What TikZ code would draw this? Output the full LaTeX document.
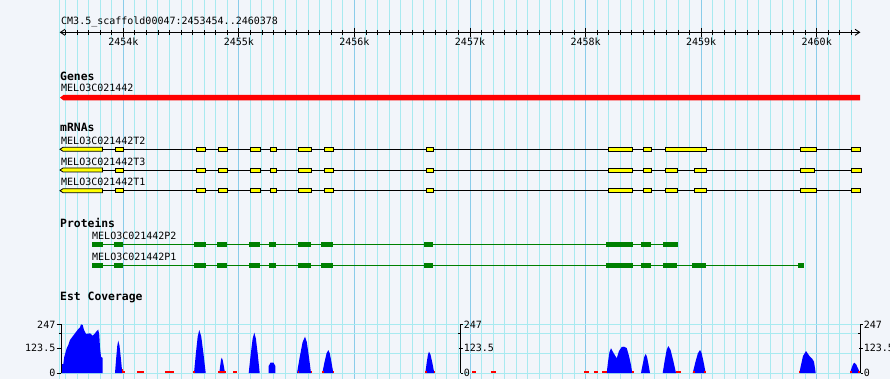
\documentclass[tikz,border=0pt]{standalone}
\usepackage{fontspec}
\newfontfamily\gd{DejaVu Sans Mono}
\definecolor{bg}{HTML}{F2F5FA}
\definecolor{gridlt}{HTML}{A8EAF0}
\definecolor{gridmj}{HTML}{8ACCEA}
\definecolor{genered}{HTML}{FF0000}
\definecolor{exyel}{HTML}{FFFF00}
\definecolor{protgr}{HTML}{008000}
\definecolor{covblue}{HTML}{0000FF}
\definecolor{covred}{HTML}{FF0000}
\tikzset{
  lbl/.style={font=\gd\fontsize{10}{10}\selectfont, inner sep=0pt, anchor=base west},
  hdr/.style={font=\gd\bfseries\fontsize{11.4}{11}\selectfont, inner sep=0pt, anchor=base west},
  ticklbl/.style={font=\gd\fontsize{10}{10}\selectfont, inner sep=0pt, anchor=base},
  axlbl/.style={font=\gd\fontsize{10}{10}\selectfont, inner sep=0pt},
  exon/.style={fill=exyel, draw=black, line width=0.8pt},
  prot/.style={fill=protgr},
  intron/.style={draw=black, line width=0.9pt},
  protline/.style={draw=protgr, line width=0.9pt},
  grl/.style={draw=gridlt, line width=1pt},
  grm/.style={draw=gridmj, line width=1pt},
}
\newcommand\ex[3]{\filldraw[exon] (#1,{#3-2}) rectangle (#2,{#3+2});}
\newcommand\firstex[2]{\filldraw[exon] (60,#2) -- (63,{#2-2}) -- (#1,{#2-2}) -- (#1,{#2+2}) -- (63,{#2+2}) -- cycle;}
\newcommand\pb[3]{\fill[prot] (#1,{#3-2.7}) rectangle (#2,{#3+2.7});}
\newcommand\peak[4]{\fill[covblue] (#1,373) -- ({#1+0.35*(#2-#1)},{373-0.45*(373-#4)}) -- ({#1+0.7*(#2-#1)},{373-0.85*(373-#4)}) -- (#2,#4) -- ({#2+0.3*(#3-#2)},{373-0.85*(373-#4)}) -- ({#2+0.65*(#3-#2)},{373-0.45*(373-#4)}) -- (#3,373) -- cycle;}
\newcommand\redmark[2]{\fill[covred] (#1,371.3) rectangle (#2,373);}
\begin{document}
\begin{tikzpicture}[x=1pt,y=-1pt]
\useasboundingbox (0,0) rectangle (890,379);
\fill[bg] (0,0) rectangle (890,379);
% vertical grid
\draw[grl] (59.5,0) -- (59.5,379);
\foreach \i in {0,...,68} {
  \pgfmathsetmacro\xx{65.5+\i*11.557}
  \draw[grl] (\xx,0) -- (\xx,379);
}
\foreach \k in {2454,...,2460} {
  \pgfmathsetmacro\xx{123.3+(\k-2454)*115.57}
  \draw[grm] (\xx,0) -- (\xx,379);
}
% coverage horizontal grid
\foreach \yy in {324.3,333.3,353.3,373} {
  \draw[grl] (61,\yy) -- (860.7,\yy);
}
% title
\node[lbl] (title) at (61,24.5) {CM3.5\_scaffold00047:2453454..2460378};
% ruler
\draw[black, line width=0.9pt] (60,32.3) -- (860,32.3);
\draw[black, line width=0.9pt] (65,29.3) -- (60.5,32.3) -- (65,35.3);
\draw[black, line width=0.9pt] (855,29.3) -- (859.5,32.3) -- (855,35.3);
\foreach \i in {0,...,68} {
  \pgfmathsetmacro\xx{65.5+\i*11.557}
  \draw[black, line width=0.9pt] (\xx,30) -- (\xx,35);
}
\foreach \k in {2454,...,2460} {
  \pgfmathsetmacro\xx{123.3+(\k-2454)*115.57}
  \draw[black, line width=0.9pt] (\xx,28) -- (\xx,37);
  \node[ticklbl] (tk\k) at (\xx,46) {\k k};
}
% genes
\node[hdr] (genes) at (60,80.5) {Genes};
\node[lbl] (gname) at (61,91.5) {MELO3C021442};
\fill[genered] (60,97.6) -- (63.5,95) -- (860,95) -- (860,100.4) -- (63.5,100.4) -- cycle;
% mRNAs
\node[hdr] (mrnas) at (60,132) {mRNAs};
\node[lbl] (t2) at (61,145) {MELO3C021442T2};
\node[lbl] (t3) at (61,165.5) {MELO3C021442T3};
\node[lbl] (t1) at (61,186) {MELO3C021442T1};
\draw[intron] (60,149.3) -- (860,149.3);
\draw[intron] (60,170) -- (861.5,170);
\draw[intron] (60,190.7) -- (860,190.7);
\foreach \yy in {149.3,170,190.7} {
  \firstex{102.5}{\yy}
  \foreach \a/\b in {115/123,196/205.5,218.5/227,250/260,270.5/276,298/311.5,324/333.5,426/433,608.5/632.5,643/651}
    {\ex{\a}{\b}{\yy}}
}
\foreach \a/\b in {665/706,800/816,851/860} {\ex{\a}{\b}{149.3}}
\foreach \a/\b in {665/677,694/706,800/814.5,851/861.5} {\ex{\a}{\b}{170}}
\foreach \a/\b in {665/677,694/706,800/816,851/860} {\ex{\a}{\b}{190.7}}
% proteins
\node[hdr] (prots) at (60,227.3) {Proteins};
\node[lbl] (p2) at (92,239.3) {MELO3C021442P2};
\node[lbl] (p1) at (92,260) {MELO3C021442P1};
\draw[protline] (92,244.5) -- (678,244.5);
\draw[protline] (92,265.5) -- (804,265.5);
\foreach \yy in {244.5,265.5} {
  \foreach \a/\b in {92/103,114/123,194/206,217/227,249/260,269/276,298/311,321/333,424/433,606/633,641/651}
    {\pb{\a}{\b}{\yy}}
}
\pb{663}{678}{244.5}
\foreach \a/\b in {663/677,692/706,798/804} {\pb{\a}{\b}{265.5}}
% coverage
\node[hdr] (cov) at (60,300.7) {Est Coverage};
\fill[covblue] (61,373) -- (61,364) -- (63.3,364) -- (64.3,356.7) -- (66.7,348.3) -- (68.3,345) -- (70,340) -- (71.7,337.7) -- (75,333.3) -- (78.3,329) -- (80,327.3) -- (81,324.3) -- (82.7,325) -- (84,330) -- (86,334) -- (90,333.3) -- (92.7,335.7) -- (95,333.3) -- (96.7,331) -- (98.3,329.7) -- (99.3,335) -- (100,347.7) -- (101,356.7) -- (102.7,358) -- (102.7,373) -- cycle;
\peak{115}{118.3}{122.3}{340.7}
\peak{194}{199.3}{205.7}{330}
\peak{219.3}{221.7}{225}{357.7}
\peak{248.7}{254.3}{259.7}{332.7}
\fill[covblue] (268.7,373) -- (268.7,366) -- (270.5,362.7) -- (273.5,362.7) -- (275.3,366) -- (275.3,373) -- cycle;
\peak{297}{305}{311}{336.7}
\peak{322.3}{328.3}{333.3}{350}
\peak{425.3}{429}{434.3}{351.7}
\fill[covblue] (606.7,373) -- (608,362) -- (609.5,352) -- (611,348.3) -- (613,352) -- (616.7,358.3) -- (619,351) -- (621.7,347) -- (624,346.7) -- (626.7,348) -- (629,356) -- (631,365) -- (632.3,373) -- cycle;
\peak{641}{645.7}{650}{354}
\peak{662.7}{668.3}{676}{346}
\peak{692.7}{700}{705.7}{350}
\fill[covblue] (799.3,373) -- (801,365) -- (803,356) -- (806,351) -- (808,354) -- (810,356.7) -- (812,358.5) -- (814,361.7) -- (815.7,373) -- cycle;
\peak{850}{854.3}{860}{362.7}
% red low coverage marks
\redmark{122.3}{125}
\fill[covred] (122.3,369.3) rectangle (123.3,373);
\redmark{136.7}{144}
\redmark{165}{174}
\redmark{192.7}{194.5}
\redmark{217.7}{225.7}
\redmark{233.3}{237.3}
\redmark{297.7}{299}
\redmark{310.5}{312}
\redmark{322}{323.5}
\redmark{332.5}{334}
\redmark{425}{426.5}
\redmark{433.5}{435}
\redmark{471.7}{475.7}
\redmark{491}{495.7}
\redmark{584}{588.7}
\redmark{594}{598.3}
\redmark{602}{606.7}
\redmark{632}{633.5}
\redmark{676}{680.7}
\redmark{692.7}{695}
\redmark{704.3}{706}
\redmark{798.5}{800}
\redmark{850}{852}
\redmark{858}{860}
% axes
\foreach \ax in {61,460.7,860.7} {
  \draw[black, line width=0.9pt] (\ax,324.3) -- (\ax,373);
}
\draw[black, line width=0.9pt] (56.7,324.3) -- (61,324.3) (56.7,348.3) -- (61,348.3) (56.7,373) -- (61,373) (58.5,333.3) -- (61,333.3);
\foreach \ax in {460.7,860.7} {
  \draw[black, line width=0.9pt] (\ax,324.3) -- ({\ax+2.7},324.3) ({\ax-2.3},333.3) -- (\ax,333.3) ({\ax-1.5},348.3) -- ({\ax+2.7},348.3) (\ax,373) -- ({\ax+2.7},373);
}
\node[axlbl, anchor=east] (a1t) at (55.5,324.3) {247};
\node[axlbl, anchor=east] (a1m) at (55.5,348.3) {123.5};
\node[axlbl, anchor=east] (a1b) at (55.5,373) {0};
\node[axlbl, anchor=west] (a2t) at (463.7,324.3) {247};
\node[axlbl, anchor=west] (a2m) at (463.7,348.3) {123.5};
\node[axlbl, anchor=west] (a2b) at (463.7,373) {0};
\node[axlbl, anchor=west] (a3t) at (863.7,324.3) {247};
\node[axlbl, anchor=west] (a3m) at (863.7,348.3) {123.5};
\node[axlbl, anchor=west] (a3b) at (863.7,373) {0};
\end{tikzpicture}
\end{document}
